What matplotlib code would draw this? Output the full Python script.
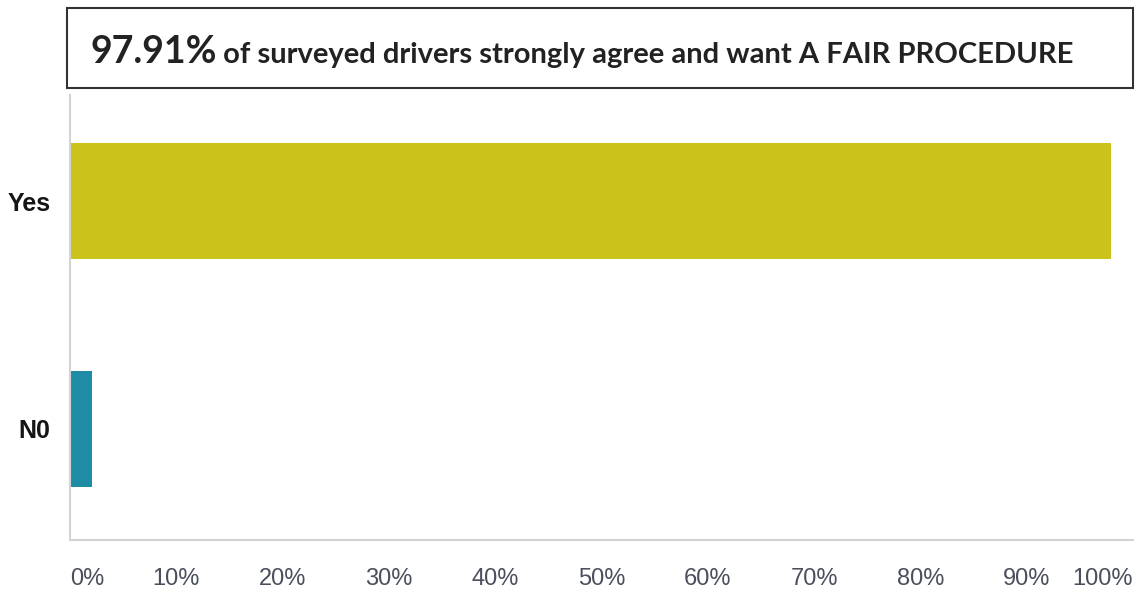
import matplotlib
matplotlib.use("Agg")
import matplotlib.pyplot as plt
from matplotlib.patches import Rectangle

categories = ["N0", "Yes"]
values = [2.09, 97.91]
bar_colors = ["#1F8CA6", "#C9C31B"]
x_ticks = [0, 10, 20, 30, 40, 50, 60, 70, 80, 90, 100]
x_tick_labels = [f"{t}%" for t in x_ticks]
headline = "97.91%"
subline = " of surveyed drivers strongly agree and want A FAIR PROCEDURE"

W, H = 1143, 592
fig = plt.figure(figsize=(W / 100, H / 100), dpi=100)
fig.patch.set_facecolor("white")

# plot area in pixel coords -> figure fraction
left, right, top, bottom = 70, 1133, 95, 540
ax = fig.add_axes([left / W, 1 - bottom / H, (right - left) / W, (bottom - top) / H])

ypos = list(range(len(categories)))
ax.barh(ypos, values, height=0.51, color=bar_colors)
ax.set_xlim(0, 100)
ax.set_ylim(-0.487, 1.465)

ax.set_xticks(x_ticks)
ax.set_xticklabels(x_tick_labels, fontsize=17, color="#4A4F5C",
                   family=["Liberation Sans", "DejaVu Sans"])
xl = ax.get_xticklabels()
xl[0].set_ha("left")
xl[-1].set_ha("right")
ax.set_yticks(ypos)
ax.set_yticklabels(categories, fontsize=18, fontweight="bold", color="#151515",
                   family=["Liberation Sans Narrow", "Liberation Sans", "DejaVu Sans"])
ax.tick_params(axis="x", length=0, pad=20)
ax.tick_params(axis="y", length=0, pad=14)

for side in ["top", "right"]:
    ax.spines[side].set_visible(False)
for side in ["left", "bottom"]:
    ax.spines[side].set_color("#D2D4D4")
    ax.spines[side].set_linewidth(1.5)

# title box
fig.patches.append(Rectangle((67 / W, 1 - 88 / H), (1133 - 67) / W, 80 / H,
                             transform=fig.transFigure, fill=False,
                             edgecolor="#333333", linewidth=1.5))
t1 = fig.text(90 / W, 1 - 63 / H, headline, fontsize=27, fontweight="bold",
              color="#222222", family=["Lato", "DejaVu Sans"], va="baseline")
fig.canvas.draw()
bb = t1.get_window_extent()
t2 = fig.text(bb.x1 / W, 1 - 63 / H, subline, fontsize=21, fontweight="bold",
              color="#222222", family=["Lato", "DejaVu Sans"], va="baseline")

fig.savefig("out.png", dpi=100)
